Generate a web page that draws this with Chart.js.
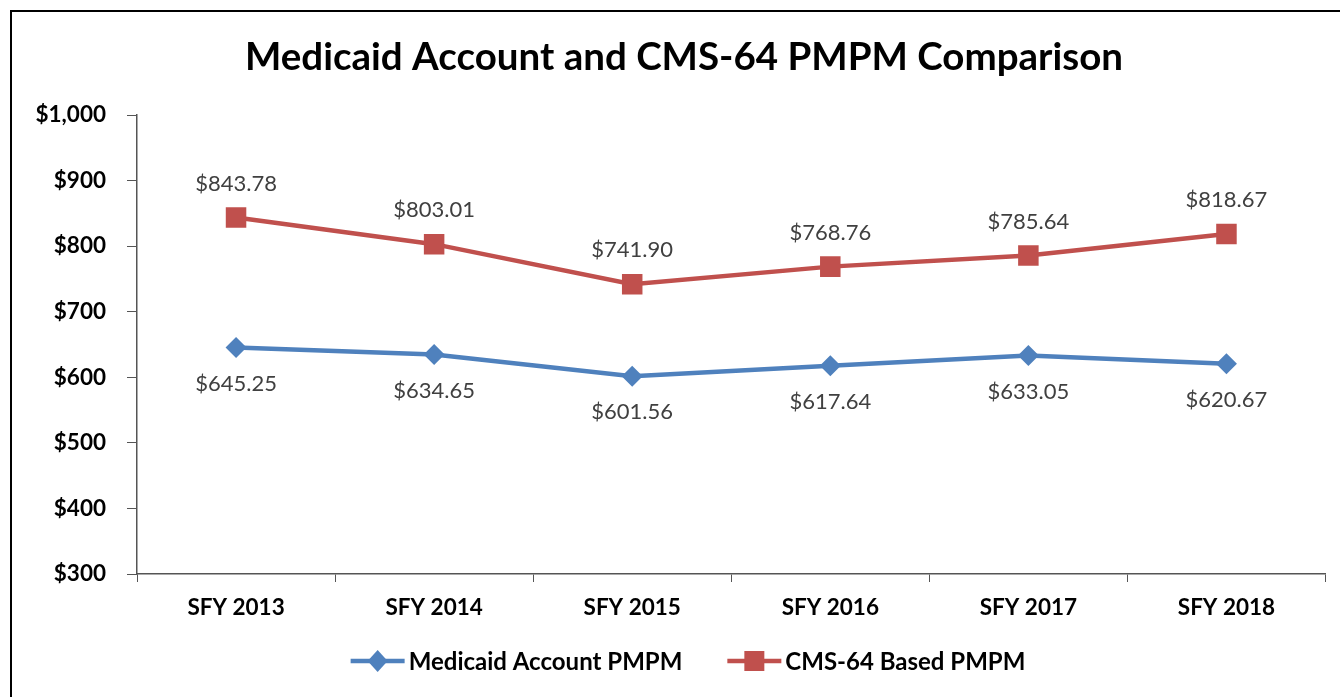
<!DOCTYPE html>
<html>
<head>
<meta charset="utf-8">
<script src="https://cdn.jsdelivr.net/npm/chart.js@4"></script>
<style>
  html, body { margin: 0; padding: 0; background: #fff; }
  #wrap { position: relative; width: 1340px; height: 697px; }
</style>
</head>
<body>
<div id="wrap"><canvas id="chart" width="1340" height="697"></canvas></div>
<script>
const years = ['SFY 2013', 'SFY 2014', 'SFY 2015', 'SFY 2016', 'SFY 2017', 'SFY 2018'];
const medicaidPmpm = [645.25, 634.65, 601.56, 617.64, 633.05, 620.67];
const cms64Pmpm = [843.78, 803.01, 741.90, 768.76, 785.64, 818.67];
const yTicks = [300, 400, 500, 600, 700, 800, 900, 1000];
const chartTitle = 'Medicaid Account and CMS-64 PMPM Comparison';

const BLUE = '#4F81BD';
const RED = '#C0504D';
const FONT = 'Lato, "Open Sans", sans-serif';

// outer border and the title (title sits a bit right of the canvas centre)
const frame = {
    id: 'frame',
    beforeDraw(chart) {
        const ctx = chart.ctx;
        ctx.save();
        ctx.strokeStyle = '#000';
        ctx.lineWidth = 2;
        ctx.strokeRect(11, 11, 1340, 700);
        ctx.font = 'bold 38.5px ' + FONT;
        ctx.fillStyle = '#000';
        ctx.textAlign = 'center';
        ctx.textBaseline = 'middle';
        ctx.fillText(chartTitle, chart.width / 2 + 14, 58);
        ctx.restore();
    }
};

const valueLabels = {
    id: 'valueLabels',
    afterDatasetsDraw(chart) {
        const ctx = chart.ctx;
        ctx.save();
        ctx.font = '22px ' + FONT;
        ctx.fillStyle = '#404040';
        ctx.textAlign = 'center';
        ctx.textBaseline = 'middle';
        chart.data.datasets.forEach((ds, i) => {
            const meta = chart.getDatasetMeta(i);
            meta.data.forEach((pt, j) => {
                const off = ds.labelAbove ? -34 : 36;
                ctx.fillText('$' + ds.data[j].toFixed(2), pt.x, pt.y + off);
            });
        });
        ctx.restore();
    }
};

// legend drawn by hand: line with marker, then bold text
const lineLegend = {
    id: 'lineLegend',
    afterDraw(chart) {
        const ctx = chart.ctx;
        const swatchW = 54, textGap = 4, itemGap = 45;
        const y = 661;
        ctx.save();
        ctx.font = 'bold 24px ' + FONT;
        const items = chart.data.datasets.map(ds => ({ ds, w: ctx.measureText(ds.label).width }));
        const total = items.reduce((s, it) => s + swatchW + textGap + it.w, 0) + itemGap * (items.length - 1);
        let x = chart.width / 2 + 18 - total / 2;
        items.forEach(it => {
            const c = it.ds.borderColor;
            ctx.strokeStyle = c;
            ctx.fillStyle = c;
            ctx.lineWidth = 4.5;
            ctx.beginPath(); ctx.moveTo(x, y); ctx.lineTo(x + swatchW, y); ctx.stroke();
            const cx = x + swatchW / 2;
            ctx.beginPath();
            if (it.ds.pointStyle === 'rectRot') {
                ctx.moveTo(cx, y - 11); ctx.lineTo(cx + 10, y); ctx.lineTo(cx, y + 11); ctx.lineTo(cx - 10, y);
            } else {
                ctx.rect(cx - 10, y - 10, 20, 20);
            }
            ctx.fill();
            ctx.fillStyle = '#000';
            ctx.textAlign = 'left';
            ctx.textBaseline = 'middle';
            ctx.fillText(it.ds.label, x + swatchW + textGap, y + 1);
            x += swatchW + textGap + it.w + itemGap;
        });
        ctx.restore();
    }
};

new Chart(document.getElementById('chart'), {
    type: 'line',
    data: {
        labels: years,
        datasets: [{
            label: 'Medicaid Account PMPM',
            data: medicaidPmpm,
            borderColor: BLUE,
            backgroundColor: BLUE,
            borderWidth: 4.5,
            pointStyle: 'rectRot',
            pointRadius: 10.5,
            pointHoverRadius: 10.5,
            pointBorderWidth: 0,
            labelAbove: false
        }, {
            label: 'CMS-64 Based PMPM',
            data: cms64Pmpm,
            borderColor: RED,
            backgroundColor: RED,
            borderWidth: 4.5,
            pointStyle: 'rect',
            pointRadius: 14.5,
            pointHoverRadius: 14.5,
            pointBorderWidth: 0,
            labelAbove: true
        }]
    },
    options: {
        responsive: false,
        animation: false,
        layout: { padding: { top: 115, left: 12, right: 13, bottom: 64 } },
        plugins: {
            title: { display: false },
            legend: { display: false },
            tooltip: { enabled: false }
        },
        scales: {
            x: {
                offset: true,
                grid: {
                    offset: true,
                    drawOnChartArea: false,
                    drawTicks: true,
                    tickLength: 8,
                    color: '#555'
                },
                border: { color: '#555', width: 1.5 },
                ticks: {
                    color: '#000',
                    padding: 12,
                    font: { family: FONT, size: 22.5, weight: 'bold' }
                }
            },
            y: {
                min: yTicks[0],
                max: yTicks[yTicks.length - 1],
                afterBuildTicks(scale) {
                    scale.ticks = yTicks.map(v => ({ value: v }));
                },
                afterFit(scale) { scale.width = 125; },
                grid: {
                    drawOnChartArea: false,
                    drawTicks: true,
                    tickLength: 10,
                    color: '#555'
                },
                border: { color: '#555', width: 1.5 },
                ticks: {
                    color: '#000',
                    padding: 21,
                    font: { family: FONT, size: 22.5, weight: 'bold' },
                    callback: v => '$' + v.toLocaleString('en-US')
                }
            }
        }
    },
    plugins: [frame, valueLabels, lineLegend]
});
</script>
</body>
</html>
